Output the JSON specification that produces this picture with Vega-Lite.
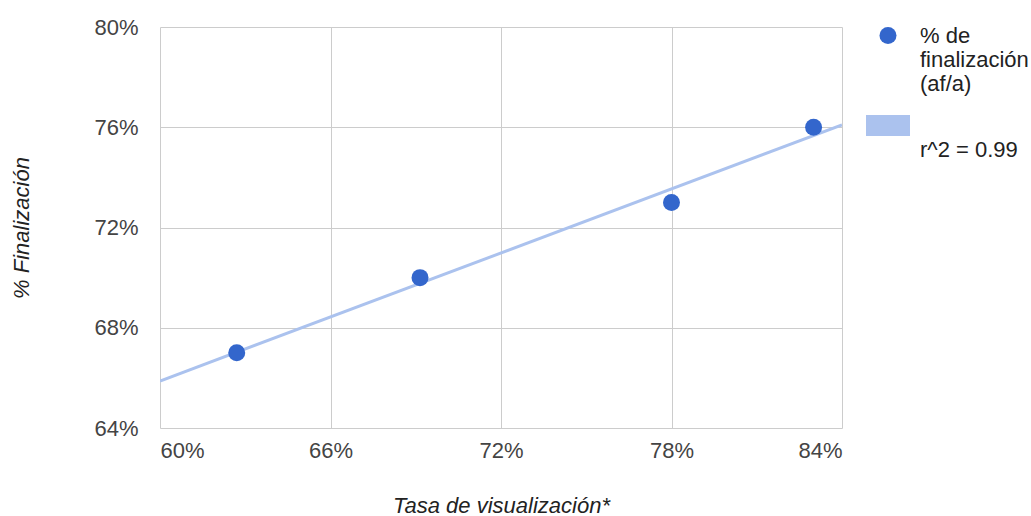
{
  "$schema": "https://vega.github.io/schema/vega-lite/v6.json",
  "width": 682,
  "height": 401,
  "autosize": "none",
  "padding": {"left": 160, "top": 27, "right": 189, "bottom": 88},
  "background": "white",
  "config": {
    "view": {"stroke": null},
    "font": "Liberation Sans",
    "axis": {
      "labelFont": "Liberation Sans",
      "labelFontSize": 22,
      "labelColor": "#444444",
      "titleFont": "Liberation Sans",
      "titleFontSize": 22,
      "titleFontStyle": "italic",
      "titleFontWeight": "normal",
      "titleColor": "#222222",
      "gridColor": "#cccccc",
      "gridWidth": 1,
      "gridOpacity": 1,
      "domain": false,
      "ticks": false
    },
    "legend": {
      "orient": "none",
      "legendX": 706,
      "legendY": -2.5,
      "padding": 0,
      "labelOffset": 10,
      "labelFont": "Liberation Sans",
      "labelFontSize": 22,
      "labelColor": "#222222",
      "labelLimit": 300,
      "labelBaseline": "middle",
      "rowPadding": 9,
      "symbolOpacity": 1,
      "symbolStrokeWidth": 0
    }
  },
  "data": {
    "values": [
      {"tasa": 0.627, "fin": 0.67, "serie": "% de finalización (af/a)", "tend": "r^2 = 0.99"},
      {"tasa": 0.6915, "fin": 0.70, "serie": "% de finalización (af/a)", "tend": "r^2 = 0.99"},
      {"tasa": 0.78, "fin": 0.73, "serie": "% de finalización (af/a)", "tend": "r^2 = 0.99"},
      {"tasa": 0.83, "fin": 0.76, "serie": "% de finalización (af/a)", "tend": "r^2 = 0.99"}
    ]
  },
  "layer": [
    {
      "transform": [
        {"regression": "fin", "on": "tasa", "extent": [0.6, 0.84], "groupby": ["tend"]}
      ],
      "mark": {"type": "line", "strokeWidth": 3, "clip": true},
      "encoding": {
        "x": {"field": "tasa", "type": "quantitative"},
        "y": {"field": "fin", "type": "quantitative"},
        "color": {
          "field": "tend", "type": "nominal",
          "legend": {
            "title": null,
            "labelExpr": "datum.value === 'r^2 = 0.99' ? ['', 'r^2 = 0.99'] : ['% de', 'finalización', '(af/a)']",
            "encode": {"labels": {"lineHeight": {"value": 27}}}
          }
        }
      }
    },
    {
      "mark": {"type": "point", "filled": true, "opacity": 1},
      "encoding": {
        "x": {
          "field": "tasa", "type": "quantitative",
          "scale": {"domain": [0.6, 0.84], "nice": false, "zero": false},
          "axis": {
            "values": [0.6, 0.66, 0.72, 0.78, 0.84],
            "format": ".0%",
            "labelPadding": 12,
            "title": "Tasa de visualización*",
            "titlePadding": 34
          }
        },
        "y": {
          "field": "fin", "type": "quantitative",
          "scale": {"domain": [0.64, 0.8], "nice": false, "zero": false},
          "axis": {
            "values": [0.64, 0.68, 0.72, 0.76, 0.8],
            "format": ".0%",
            "labelPadding": 22,
            "title": "% Finalización",
            "titlePadding": 60
          }
        },
        "color": {
          "field": "serie", "type": "nominal",
          "scale": {
            "domain": ["% de finalización (af/a)", "r^2 = 0.99"],
            "range": ["#3366cc", "#abc2ee"]
          },
          "legend": {
            "title": null,
            "labelExpr": "datum.value === 'r^2 = 0.99' ? ['', 'r^2 = 0.99'] : ['% de', 'finalización', '(af/a)']",
            "encode": {"labels": {"lineHeight": {"value": 27}}}
          }
        },
        "shape": {
          "field": "serie", "type": "nominal",
          "scale": {
            "domain": ["% de finalización (af/a)", "r^2 = 0.99"],
            "range": ["circle", "M-1,-0.48H1V0.48H-1Z"]
          },
          "legend": {
            "title": null,
            "labelExpr": "datum.value === 'r^2 = 0.99' ? ['', 'r^2 = 0.99'] : ['% de', 'finalización', '(af/a)']",
            "encode": {"labels": {"lineHeight": {"value": 27}}}
          }
        },
        "size": {
          "field": "serie", "type": "nominal",
          "scale": {
            "domain": ["% de finalización (af/a)", "r^2 = 0.99"],
            "range": [289, 1936]
          },
          "legend": {
            "title": null,
            "labelExpr": "datum.value === 'r^2 = 0.99' ? ['', 'r^2 = 0.99'] : ['% de', 'finalización', '(af/a)']",
            "encode": {"labels": {"lineHeight": {"value": 27}}}
          }
        }
      }
    }
  ]
}
